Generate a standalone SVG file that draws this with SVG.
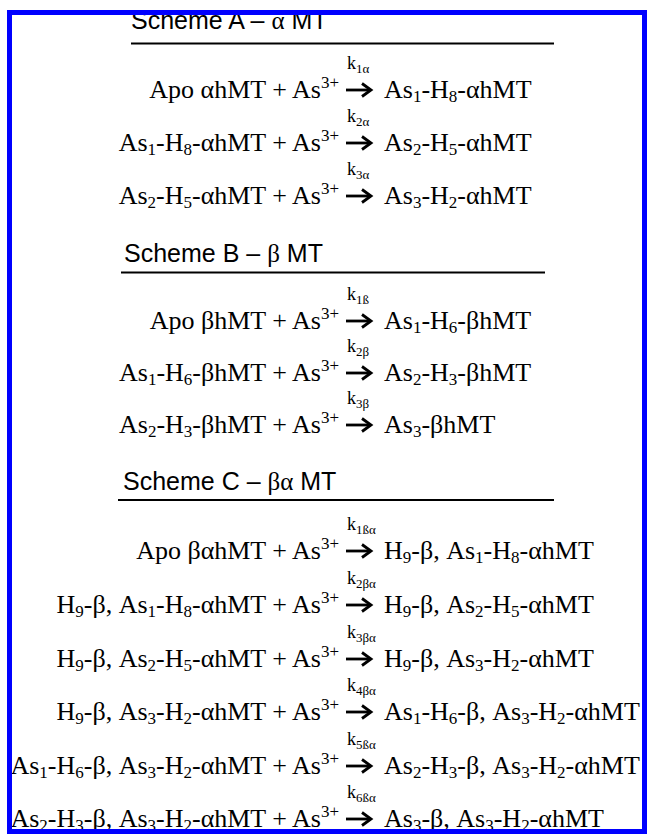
<svg xmlns="http://www.w3.org/2000/svg" xmlns:xlink="http://www.w3.org/1999/xlink" width="648" height="834" viewBox="0 0 648 834">
  <style>
    .eq { font-family: "Liberation Serif", "Times New Roman", serif; font-size: 26px; fill: #000; }
    .l { text-anchor: end; }
    .sb { font-size: 17px; baseline-shift: -4px; }
    .sp { font-size: 17px; baseline-shift: 10px; }
    .k { font-family: "Liberation Serif", "Times New Roman", serif; font-size: 18px; fill: #000; }
    .ks { font-size: 13px; baseline-shift: -4px; }
    .title { font-family: "Liberation Sans", Arial, sans-serif; font-size: 25px; fill: #000; }
    .gr { font-family: "Liberation Serif", "Times New Roman", serif; }
    .rule { stroke: #000; stroke-width: 2; }
    .arr { fill: none; stroke: #000; stroke-width: 2.8; stroke-linecap: butt; stroke-linejoin: miter; }
  </style>
  <defs>
    <!-- reaction arrow: thick shaft with a chevron head, origin at the text baseline -->
    <g id="rxn">
      <path class="arr" d="M346,-8 H370"/>
      <path class="arr" d="M362,-14.5 L371,-8 L362,-1.5"/>
    </g>
  </defs>

  <rect x="0" y="0" width="648" height="834" fill="#fff"/>

  <!-- Scheme A -->
  <g id="schemeA">
    <text class="title" x="131" y="29">Scheme A – <tspan class="gr">α</tspan> MT</text>
    <line class="rule" x1="131" y1="43.5" x2="554" y2="43.5"/>
    <g id="a1" transform="translate(0,98)">
      <text class="k" x="347" y="-29">k<tspan class="ks">1α</tspan></text>
      <text class="eq l" x="339" y="0">Apo αhMT + As<tspan class="sp">3+</tspan></text>
      <text class="eq" x="384" y="0">As<tspan class="sb">1</tspan>-H<tspan class="sb">8</tspan>-αhMT</text>
    </g>
    <g id="a2" transform="translate(0,151)">
      <text class="k" x="347" y="-29">k<tspan class="ks">2α</tspan></text>
      <text class="eq l" x="339" y="0">As<tspan class="sb">1</tspan>-H<tspan class="sb">8</tspan>-αhMT + As<tspan class="sp">3+</tspan></text>
      <text class="eq" x="384" y="0">As<tspan class="sb">2</tspan>-H<tspan class="sb">5</tspan>-αhMT</text>
    </g>
    <g id="a3" transform="translate(0,204)">
      <text class="k" x="347" y="-29">k<tspan class="ks">3α</tspan></text>
      <text class="eq l" x="339" y="0">As<tspan class="sb">2</tspan>-H<tspan class="sb">5</tspan>-αhMT + As<tspan class="sp">3+</tspan></text>
      <text class="eq" x="384" y="0">As<tspan class="sb">3</tspan>-H<tspan class="sb">2</tspan>-αhMT</text>
    </g>
  </g>

  <!-- Scheme B -->
  <g id="schemeB">
    <text class="title" x="124" y="262">Scheme B – <tspan class="gr">β</tspan> MT</text>
    <line class="rule" x1="121" y1="272.5" x2="545" y2="272.5"/>
    <g id="b1" transform="translate(0,329)">
      <text class="k" x="347" y="-29">k<tspan class="ks">1ß</tspan></text>
      <text class="eq l" x="339" y="0">Apo βhMT + As<tspan class="sp">3+</tspan></text>
      <text class="eq" x="384" y="0">As<tspan class="sb">1</tspan>-H<tspan class="sb">6</tspan>-βhMT</text>
    </g>
    <g id="b2" transform="translate(0,381)">
      <text class="k" x="347" y="-29">k<tspan class="ks">2β</tspan></text>
      <text class="eq l" x="339" y="0">As<tspan class="sb">1</tspan>-H<tspan class="sb">6</tspan>-βhMT + As<tspan class="sp">3+</tspan></text>
      <text class="eq" x="384" y="0">As<tspan class="sb">2</tspan>-H<tspan class="sb">3</tspan>-βhMT</text>
    </g>
    <g id="b3" transform="translate(0,433)">
      <text class="k" x="347" y="-29">k<tspan class="ks">3β</tspan></text>
      <text class="eq l" x="339" y="0">As<tspan class="sb">2</tspan>-H<tspan class="sb">3</tspan>-βhMT + As<tspan class="sp">3+</tspan></text>
      <text class="eq" x="384" y="0">As<tspan class="sb">3</tspan>-βhMT</text>
    </g>
  </g>

  <!-- Scheme C -->
  <g id="schemeC">
    <text class="title" x="123" y="490">Scheme C – <tspan class="gr">βα</tspan> MT</text>
    <line class="rule" x1="118" y1="500" x2="554" y2="500"/>
    <g id="c1" transform="translate(0,559)">
      <text class="k" x="347" y="-29">k<tspan class="ks">1ßα</tspan></text>
      <text class="eq l" x="339" y="0">Apo βαhMT + As<tspan class="sp">3+</tspan></text>
      <text class="eq" x="384" y="0">H<tspan class="sb">9</tspan>-β, As<tspan class="sb">1</tspan>-H<tspan class="sb">8</tspan>-αhMT</text>
    </g>
    <g id="c2" transform="translate(0,613)">
      <text class="k" x="347" y="-29">k<tspan class="ks">2βα</tspan></text>
      <text class="eq l" x="339" y="0">H<tspan class="sb">9</tspan>-β, As<tspan class="sb">1</tspan>-H<tspan class="sb">8</tspan>-αhMT + As<tspan class="sp">3+</tspan></text>
      <text class="eq" x="384" y="0">H<tspan class="sb">9</tspan>-β, As<tspan class="sb">2</tspan>-H<tspan class="sb">5</tspan>-αhMT</text>
    </g>
    <g id="c3" transform="translate(0,667)">
      <text class="k" x="347" y="-29">k<tspan class="ks">3βα</tspan></text>
      <text class="eq l" x="339" y="0">H<tspan class="sb">9</tspan>-β, As<tspan class="sb">2</tspan>-H<tspan class="sb">5</tspan>-αhMT + As<tspan class="sp">3+</tspan></text>
      <text class="eq" x="384" y="0">H<tspan class="sb">9</tspan>-β, As<tspan class="sb">3</tspan>-H<tspan class="sb">2</tspan>-αhMT</text>
    </g>
    <g id="c4" transform="translate(0,720)">
      <text class="k" x="347" y="-29">k<tspan class="ks">4βα</tspan></text>
      <text class="eq l" x="339" y="0">H<tspan class="sb">9</tspan>-β, As<tspan class="sb">3</tspan>-H<tspan class="sb">2</tspan>-αhMT + As<tspan class="sp">3+</tspan></text>
      <text class="eq" x="384" y="0">As<tspan class="sb">1</tspan>-H<tspan class="sb">6</tspan>-β, As<tspan class="sb">3</tspan>-H<tspan class="sb">2</tspan>-αhMT</text>
    </g>
    <g id="c5" transform="translate(0,774)">
      <text class="k" x="347" y="-29">k<tspan class="ks">5ßα</tspan></text>
      <text class="eq l" x="339" y="0">As<tspan class="sb">1</tspan>-H<tspan class="sb">6</tspan>-β, As<tspan class="sb">3</tspan>-H<tspan class="sb">2</tspan>-αhMT + As<tspan class="sp">3+</tspan></text>
      <text class="eq" x="384" y="0">As<tspan class="sb">2</tspan>-H<tspan class="sb">3</tspan>-β, As<tspan class="sb">3</tspan>-H<tspan class="sb">2</tspan>-αhMT</text>
    </g>
    <g id="c6" transform="translate(0,827)">
      <text class="k" x="347" y="-29">k<tspan class="ks">6ßα</tspan></text>
      <text class="eq l" x="339" y="0">As<tspan class="sb">2</tspan>-H<tspan class="sb">3</tspan>-β, As<tspan class="sb">3</tspan>-H<tspan class="sb">2</tspan>-αhMT + As<tspan class="sp">3+</tspan></text>
      <text class="eq" x="384" y="0">As<tspan class="sb">3</tspan>-β, As<tspan class="sb">3</tspan>-H<tspan class="sb">2</tspan>-αhMT</text>
    </g>
  </g>

  <!-- reaction arrows, one per equation row -->
  <g id="connectors">
    <use xlink:href="#rxn" y="98"/>
    <use xlink:href="#rxn" y="151"/>
    <use xlink:href="#rxn" y="204"/>
    <use xlink:href="#rxn" y="329"/>
    <use xlink:href="#rxn" y="381"/>
    <use xlink:href="#rxn" y="433"/>
    <use xlink:href="#rxn" y="559"/>
    <use xlink:href="#rxn" y="613"/>
    <use xlink:href="#rxn" y="667"/>
    <use xlink:href="#rxn" y="720"/>
    <use xlink:href="#rxn" y="774"/>
    <use xlink:href="#rxn" y="827"/>
  </g>

  <!-- frame -->
  <rect x="9.5" y="12.5" width="635" height="819" fill="none" stroke="#0000ff" stroke-width="5"/>
</svg>
